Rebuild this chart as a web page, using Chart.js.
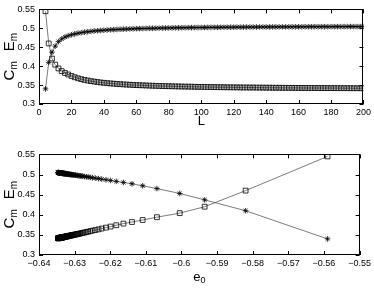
<!DOCTYPE html>
<html>
<head>
<meta charset="utf-8">
<script src="https://cdn.jsdelivr.net/npm/chart.js@4/dist/chart.umd.min.js"></script>
<style>
  html, body { margin: 0; padding: 0; background: #fff; }
  #wrap { position: relative; width: 374px; height: 292px; }
  canvas { position: absolute; left: 0; }
</style>
</head>
<body>
<div id="wrap">
  <canvas id="topChart" width="374" height="132" style="top:0"></canvas>
  <canvas id="bottomChart" width="374" height="147" style="top:145px"></canvas>
</div>
<script>
// system size L
const sizes = [
    4, 6, 8, 10, 12, 14, 16, 18, 20, 22,
    24, 26, 28, 30, 32, 34, 36, 38, 40, 42,
    44, 46, 48, 50, 52, 54, 56, 58, 60, 62,
    64, 66, 68, 70, 72, 74, 76, 78, 80, 82,
    84, 86, 88, 90, 92, 94, 96, 98, 100, 102,
    104, 106, 108, 110, 112, 114, 116, 118, 120, 122,
    124, 126, 128, 130, 132, 134, 136, 138, 140, 142,
    144, 146, 148, 150, 152, 154, 156, 158, 160, 162,
    164, 166, 168, 170, 172, 174, 176, 178, 180, 182,
    184, 186, 188, 190, 192, 194, 196, 198, 200
];

// C_m (asterisks)
const cm = [
    0.340, 0.410, 0.437, 0.453, 0.465, 0.472, 0.477, 0.4803, 0.483, 0.4852,
    0.487, 0.4885, 0.4899, 0.491, 0.492, 0.4929, 0.4937, 0.4944, 0.495, 0.4956,
    0.4961, 0.4966, 0.497, 0.4974, 0.4978, 0.4981, 0.4984, 0.4987, 0.499, 0.4993,
    0.4995, 0.4997, 0.4999, 0.5001, 0.5003, 0.5005, 0.5007, 0.5008, 0.501, 0.5011,
    0.5013, 0.5014, 0.5015, 0.5017, 0.5018, 0.5019, 0.502, 0.5021, 0.5022, 0.5023,
    0.5024, 0.5025, 0.5026, 0.5026, 0.5027, 0.5028, 0.5029, 0.5029, 0.503, 0.5031,
    0.5031, 0.5032, 0.5033, 0.5033, 0.5034, 0.5034, 0.5035, 0.5035, 0.5036, 0.5036,
    0.5037, 0.5037, 0.5038, 0.5038, 0.5038, 0.5039, 0.5039, 0.504, 0.504, 0.504,
    0.5041, 0.5041, 0.5041, 0.5042, 0.5042, 0.5042, 0.5043, 0.5043, 0.5043, 0.5044,
    0.5044, 0.5044, 0.5044, 0.5045, 0.5045, 0.5045, 0.5046, 0.5046, 0.5046
];

// E_m (squares)
const em = [
    0.545, 0.460, 0.420, 0.404, 0.394, 0.387, 0.382, 0.378, 0.374, 0.3707,
    0.368, 0.3657, 0.3637, 0.362, 0.3605, 0.3592, 0.358, 0.3569, 0.356, 0.3551,
    0.3544, 0.3537, 0.353, 0.3524, 0.3518, 0.3513, 0.3509, 0.3504, 0.35, 0.3496,
    0.3493, 0.3489, 0.3486, 0.3483, 0.348, 0.3477, 0.3475, 0.3472, 0.347, 0.3468,
    0.3466, 0.3464, 0.3462, 0.346, 0.3458, 0.3457, 0.3455, 0.3453, 0.3452, 0.3451,
    0.3449, 0.3448, 0.3447, 0.3445, 0.3444, 0.3443, 0.3442, 0.3441, 0.344, 0.3439,
    0.3438, 0.3437, 0.3436, 0.3435, 0.3435, 0.3434, 0.3433, 0.3432, 0.3431, 0.3431,
    0.343, 0.3429, 0.3429, 0.3428, 0.3427, 0.3427, 0.3426, 0.3426, 0.3425, 0.3424,
    0.3424, 0.3423, 0.3423, 0.3422, 0.3422, 0.3421, 0.3421, 0.342, 0.342, 0.342,
    0.3419, 0.3419, 0.3418, 0.3418, 0.3418, 0.3417, 0.3417, 0.3416, 0.3416
];

// e_0 for the same sizes
const e0 = [
    -0.559, -0.582, -0.5935, -0.6005, -0.6069, -0.6109, -0.6139, -0.6163, -0.6183, -0.6199,
    -0.6212, -0.6224, -0.6233, -0.6242, -0.625, -0.6256, -0.6262, -0.6267, -0.6272, -0.6277,
    -0.628, -0.6284, -0.6287, -0.629, -0.6293, -0.6296, -0.6298, -0.6301, -0.6303, -0.6305,
    -0.6307, -0.6308, -0.631, -0.6312, -0.6313, -0.6314, -0.6316, -0.6317, -0.6318, -0.6319,
    -0.632, -0.6321, -0.6322, -0.6323, -0.6324, -0.6325, -0.6326, -0.6327, -0.6327, -0.6328,
    -0.6329, -0.6329, -0.633, -0.6331, -0.6331, -0.6332, -0.6333, -0.6333, -0.6334, -0.6334,
    -0.6335, -0.6335, -0.6336, -0.6336, -0.6337, -0.6337, -0.6337, -0.6338, -0.6338, -0.6339,
    -0.6339, -0.6339, -0.634, -0.634, -0.634, -0.6341, -0.6341, -0.6341, -0.6342, -0.6342,
    -0.6342, -0.6342, -0.6343, -0.6343, -0.6343, -0.6343, -0.6344, -0.6344, -0.6344, -0.6344,
    -0.6345, -0.6345, -0.6345, -0.6345, -0.6345, -0.6346, -0.6346, -0.6346, -0.6346
];

// tick labels
const lTicks = [0, 20, 40, 60, 80, 100, 120, 140, 160, 180, 200];
const e0Ticks = [-0.64, -0.63, -0.62, -0.61, -0.6, -0.59, -0.58, -0.57, -0.56, -0.55];
const yTicks = [0.3, 0.35, 0.4, 0.45, 0.5, 0.55];

const FONT = "'Liberation Sans', Arial, sans-serif";

// draws text with subscripts, centered on 0
const drawSubText = (ctx, parts, gap, bigSize, smallSize) => {
    const big = bigSize + 'px ' + FONT, small = smallSize + 'px ' + FONT;
    let total = 0;
    const widths = parts.map(([main, sub]) => {
        ctx.font = big; const w1 = ctx.measureText(main).width;
        ctx.font = small; const w2 = ctx.measureText(sub).width;
        return [w1, w2];
    });
    widths.forEach(([a, b], i) => { total += a + b + (i ? gap : 0); });
    let x = -total / 2;
    parts.forEach(([main, sub], i) => {
        ctx.font = big; ctx.fillText(main, x, 0);
        x += widths[i][0];
        ctx.font = small; ctx.fillText(sub, x, 4);
        x += widths[i][1] + gap;
    });
};

// matlab style box, inward ticks and axis titles
const boxPlugin = {
    id: 'boxPlugin',
    afterDraw(chart, args, opts) {
        const { ctx, chartArea: a, scales: { x, y } } = chart;
        ctx.save();
        ctx.strokeStyle = '#000';
        ctx.lineWidth = 1;
        ctx.strokeRect(Math.round(a.left) + 0.5, Math.round(a.top) + 0.5,
            Math.round(a.right - a.left) - 1, Math.round(a.bottom - a.top) - 1);
        ctx.beginPath();
        x.ticks.forEach(t => {
            const px = Math.round(x.getPixelForValue(t.value)) + 0.5;
            ctx.moveTo(px, a.bottom); ctx.lineTo(px, a.bottom - 4);
            ctx.moveTo(px, a.top); ctx.lineTo(px, a.top + 4);
        });
        y.ticks.forEach(t => {
            const py = Math.round(y.getPixelForValue(t.value)) + 0.5;
            ctx.moveTo(a.left, py); ctx.lineTo(a.left + 4, py);
            ctx.moveTo(a.right, py); ctx.lineTo(a.right - 4, py);
        });
        ctx.stroke();

        ctx.fillStyle = '#000';
        ctx.textBaseline = 'middle';
        ctx.textAlign = 'left';
        ctx.save();
        ctx.translate((a.left + a.right) / 2, opts.xTitleY);
        drawSubText(ctx, [opts.xTitle], 0, 13, 9);
        ctx.restore();

        ctx.save();
        ctx.translate(10, (a.top + a.bottom) / 2);
        ctx.rotate(-Math.PI / 2);
        drawSubText(ctx, [['C', 'm'], ['E', 'm']], 10, 15, 10);
        ctx.restore();
        ctx.restore();
    }
};

const seriesStyle = {
    borderColor: '#444',
    borderWidth: 0.7,
    pointBorderColor: '#000',
    pointBorderWidth: 0.8,
    pointHoverRadius: 0
};

const makeChart = (canvasId, xs, xTicks, xMin, xMax, xFmt, titleOpts, padTop, xHeight) => {
    const ctx = document.getElementById(canvasId).getContext('2d');
    return new Chart(ctx, {
        type: 'line',
        data: {
            datasets: [{
                ...seriesStyle,
                label: 'C_m',
                data: xs.map((v, i) => ({ x: v, y: cm[i] })),
                pointStyle: 'star',
                pointRadius: 2.8,
                pointBackgroundColor: '#000'
            }, {
                ...seriesStyle,
                label: 'E_m',
                data: xs.map((v, i) => ({ x: v, y: em[i] })),
                pointStyle: 'rect',
                pointRadius: 3.4,
                pointBackgroundColor: 'rgba(255,255,255,0)'
            }]
        },
        options: {
            responsive: false,
            animation: false,
            devicePixelRatio: 1,
            layout: { padding: { left: 0, right: 9, top: padTop, bottom: 0 } },
            plugins: {
                legend: { display: false },
                tooltip: { enabled: false },
                boxPlugin: titleOpts
            },
            scales: {
                x: {
                    type: 'linear',
                    min: xMin,
                    max: xMax,
                    afterBuildTicks: s => { s.ticks = xTicks.map(v => ({ value: v })); },
                    afterFit: s => { s.height = xHeight; },
                    grid: { display: false, drawTicks: false },
                    border: { display: false },
                    ticks: {
                        padding: 3,
                        color: '#000',
                        font: { family: FONT, size: 9 },
                        maxRotation: 0,
                        callback: xFmt
                    }
                },
                y: {
                    min: 0.3,
                    max: 0.55,
                    afterBuildTicks: s => { s.ticks = yTicks.map(v => ({ value: v })); },
                    afterFit: s => { s.width = 39; },
                    grid: { display: false, drawTicks: false },
                    border: { display: false },
                    ticks: {
                        padding: 4,
                        color: '#000',
                        font: { family: FONT, size: 9 },
                        callback: v => String(v)
                    }
                }
            }
        },
        plugins: [boxPlugin]
    });
};

makeChart('topChart', sizes, lTicks, 0, 200, v => String(v),
    { xTitle: ['L', ''], xTitleY: 121 }, 7, 28);
makeChart('bottomChart', e0, e0Ticks, -0.64, -0.55, v => String(v).replace('-', '\u2212'),
    { xTitle: ['e', '0'], xTitleY: 132 }, 8, 37);
</script>
</body>
</html>
